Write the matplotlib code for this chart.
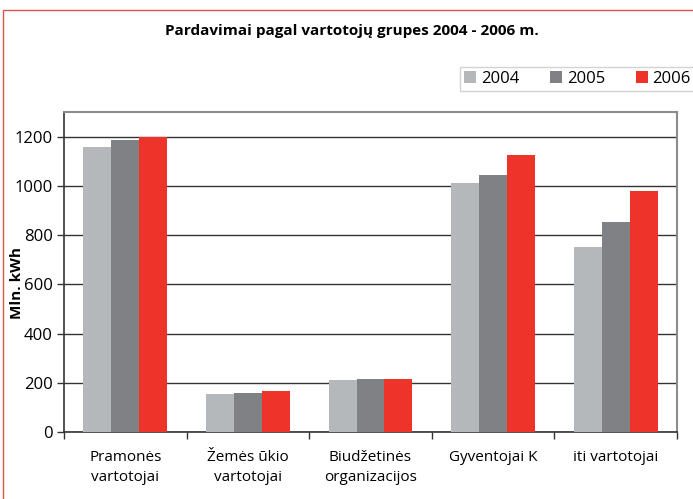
import numpy as np
import matplotlib.pyplot as plt
from matplotlib.patches import Rectangle

categories = ["Pramonės\nvartotojai", "Žemės ūkio\nvartotojai", "Biudžetinės\norganizacijos",
              "Gyventojai K", "iti vartotojai"]
years = ["2004", "2005", "2006"]
v2004 = [1159, 154, 211, 1013, 751]
v2005 = [1186, 158, 214, 1044, 855]
v2006 = [1200, 166, 214, 1127, 978]
colors = ["#b5b8bb", "#808184", "#ee332b"]

plt.rcParams['font.family'] = ['Open Sans', 'DejaVu Sans']

fig = plt.figure(figsize=(6.93, 4.99), dpi=100)
ax = fig.add_axes([64/693, 1-432/499, (677-64)/693, (432-112)/499])

x = np.arange(len(categories))
w = 0.228
for i, (vals, c) in enumerate(zip([v2004, v2005, v2006], colors)):
    ax.bar(x + (i-1)*w, vals, w, color=c, label=years[i], zorder=3)

ax.set_xlim(-0.5, len(categories)-0.5)
ax.set_ylim(0, 1300)
ax.set_yticks(range(0, 1201, 200))
ax.tick_params(axis='y', labelsize=12, length=5, width=1, color='#333333', pad=3)
ax.yaxis.grid(True, color='#333333', linewidth=1, zorder=0)

ax.set_xticks(x)
ax.set_xticklabels(categories, fontsize=11, linespacing=1.45)
ax.tick_params(axis='x', length=0, pad=13)
ax.set_xticks(np.arange(-0.5, len(categories)), minor=True)
ax.tick_params(axis='x', which='minor', length=5, width=1, color='#333333')

for s in ['top', 'right']:
    ax.spines[s].set_color('#8c8c8f')
    ax.spines[s].set_linewidth(1.5)
ax.spines['left'].set_color('#333333')
ax.spines['bottom'].set_color('#333333')
ax.spines['left'].set_linewidth(1.2)
ax.spines['bottom'].set_linewidth(1.2)

fig.text(17/693, 1-283/499, "Mln. kWh", rotation=90, ha='center', va='center',
         fontsize=11, fontweight='bold')

fig.text(352/693, 1-31/499, "Pardavimai pagal vartotojų grupes 2004 - 2006 m.",
         ha='center', va='center', fontsize=11, fontweight='bold')

leg = fig.legend(loc='center right', bbox_to_anchor=(1.015, 1-79/499), ncol=3,
                 fontsize=12, frameon=True, fancybox=False, edgecolor='#c8c8c8',
                 handlelength=0.7, handleheight=0.7, handletextpad=0.3,
                 columnspacing=1.85, borderpad=0.25)
leg.get_frame().set_linewidth(1)

# red outer frame (only top/left visible)
fig.patches.append(Rectangle((3/693, -0.1), 1.2, 1-10/499+0.1, transform=fig.transFigure,
                             fill=False, edgecolor='#d9534f', linewidth=1))

fig.savefig("out.png", dpi=100)
